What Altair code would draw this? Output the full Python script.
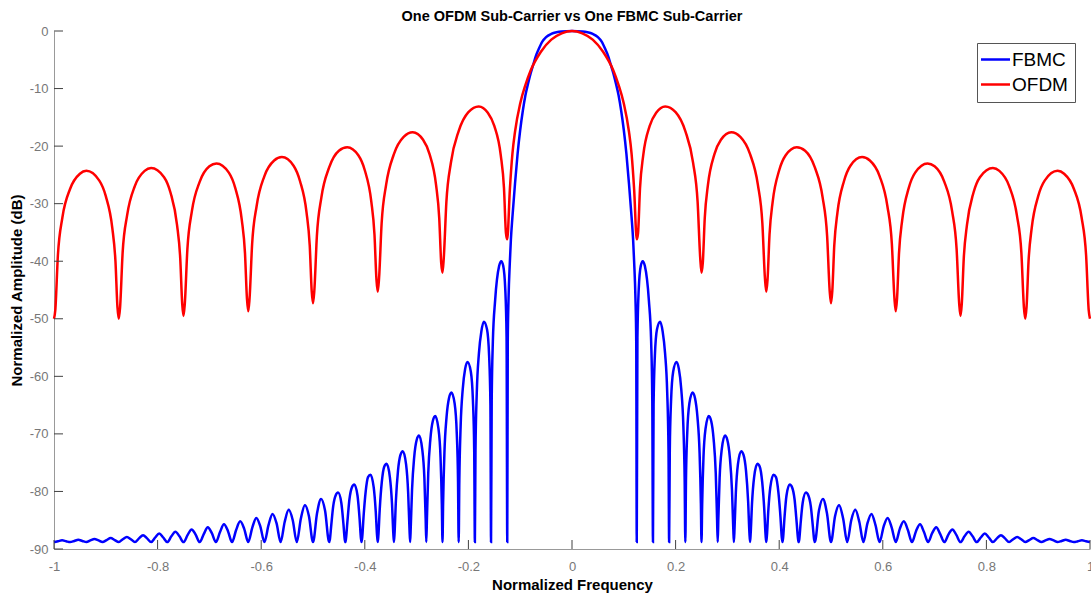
import altair as alt
import pandas as pd

# ---------------- data ----------------
series_names = ["FBMC", "OFDM"]
series_colors = ["#0000ff", "#ff0000"]

x_tick_values = [-1, -0.8, -0.6, -0.4, -0.2, 0, 0.2, 0.4, 0.6, 0.8, 1]
y_tick_values = [0, -10, -20, -30, -40, -50, -60, -70, -80, -90]

# OFDM sub-carrier (normalized frequency, dB)
ofdm_freq = [
    -1.0, -0.9975, -0.9925, -0.9838, -0.9688, -0.95, -0.9375, -0.9125, -0.9, -0.8875, -0.8813, -0.8775,
    -0.875, -0.8725, -0.8675, -0.8588, -0.8438, -0.825, -0.8125, -0.7875, -0.775, -0.7625, -0.7563, -0.7525,
    -0.75, -0.7475, -0.7425, -0.7338, -0.7188, -0.7, -0.6863, -0.6625, -0.65, -0.6375, -0.6313, -0.6275,
    -0.625, -0.6225, -0.6175, -0.6088, -0.5938, -0.575, -0.56, -0.5375, -0.525, -0.5125, -0.5063, -0.5025,
    -0.5, -0.4975, -0.4925, -0.4838, -0.4688, -0.45, -0.4338, -0.4125, -0.4, -0.3875, -0.3813, -0.3775,
    -0.375, -0.3725, -0.3675, -0.3588, -0.3438, -0.325, -0.3075, -0.2875, -0.275, -0.2625, -0.2563, -0.2525,
    -0.25, -0.2475, -0.2425, -0.2338, -0.2188, -0.2, -0.18, -0.1625, -0.15, -0.1375, -0.1313, -0.1275,
    -0.125, -0.12, -0.115, -0.11, -0.1, -0.09, -0.08, -0.06, -0.04, -0.02,
    0.0, 0.02, 0.04, 0.06, 0.08, 0.09, 0.1, 0.11, 0.115, 0.12, 0.125,
    0.1275, 0.1313, 0.1375, 0.15, 0.1625, 0.18, 0.2, 0.2188, 0.2338, 0.2425, 0.2475, 0.25,
    0.2525, 0.2563, 0.2625, 0.275, 0.2875, 0.3075, 0.325, 0.3438, 0.3588, 0.3675, 0.3725, 0.375,
    0.3775, 0.3813, 0.3875, 0.4, 0.4125, 0.4338, 0.45, 0.4688, 0.4838, 0.4925, 0.4975, 0.5,
    0.5025, 0.5063, 0.5125, 0.525, 0.5375, 0.56, 0.575, 0.5938, 0.6088, 0.6175, 0.6225, 0.625,
    0.6275, 0.6313, 0.6375, 0.65, 0.6625, 0.6863, 0.7, 0.7188, 0.7338, 0.7425, 0.7475, 0.75,
    0.7525, 0.7563, 0.7625, 0.775, 0.7875, 0.8125, 0.825, 0.8438, 0.8588, 0.8675, 0.8725, 0.875,
    0.8775, 0.8813, 0.8875, 0.9, 0.9125, 0.9375, 0.95, 0.9688, 0.9838, 0.9925, 0.9975, 1.0,
]
ofdm_db = [
    -50.0, -48.5, -39.0, -32.4, -27.4, -24.8, -24.3, -26.0, -28.7, -34.2, -40.1, -48.0,
    -50.0, -48.1, -38.5, -32.0, -26.9, -24.3, -23.8, -25.4, -28.1, -33.7, -39.5, -47.4,
    -49.5, -47.4, -37.9, -31.3, -26.2, -23.5, -23.0, -24.6, -27.3, -32.8, -38.6, -46.5,
    -48.7, -46.5, -37.0, -30.4, -25.2, -22.5, -21.9, -23.4, -26.1, -31.5, -37.3, -45.2,
    -47.3, -45.2, -35.6, -28.9, -23.7, -20.8, -20.2, -21.6, -24.2, -29.6, -35.4, -43.2,
    -45.3, -43.0, -33.4, -26.7, -21.4, -18.4, -17.6, -18.9, -21.4, -26.7, -32.5, -40.3,
    -42.0, -39.4, -29.7, -22.9, -17.4, -14.1, -13.1, -14.2, -16.5, -21.6, -27.3, -35.1,
    -36.2, -27.6, -21.3, -17.5, -12.6, -9.4, -6.9, -3.6, -1.5, -0.4,
    0.0, -0.4, -1.5, -3.6, -6.9, -9.4, -12.6, -17.5, -21.3, -27.6, -36.2,
    -35.1, -27.3, -21.6, -16.5, -14.2, -13.1, -14.1, -17.4, -22.9, -29.7, -39.4, -42.0,
    -40.3, -32.5, -26.7, -21.4, -18.9, -17.6, -18.4, -21.4, -26.7, -33.4, -43.0, -45.3,
    -43.2, -35.4, -29.6, -24.2, -21.6, -20.2, -20.8, -23.7, -28.9, -35.6, -45.2, -47.3,
    -45.2, -37.3, -31.5, -26.1, -23.4, -21.9, -22.5, -25.2, -30.4, -37.0, -46.5, -48.7,
    -46.5, -38.6, -32.8, -27.3, -24.6, -23.0, -23.5, -26.2, -31.3, -37.9, -47.4, -49.5,
    -47.4, -39.5, -33.7, -28.1, -25.4, -23.8, -24.3, -26.9, -32.0, -38.5, -48.1, -50.0,
    -48.0, -40.1, -34.2, -28.7, -26.0, -24.3, -24.8, -27.4, -32.4, -39.0, -48.5, -50.0,
]

# FBMC sub-carrier (normalized frequency, dB)
fbmc_freq = [
    -1.0, -0.9922, -0.9844, -0.9766,
    -0.9688, -0.9609, -0.9531, -0.9453,
    -0.9375, -0.9297, -0.9219, -0.9141,
    -0.9063, -0.8984, -0.8906, -0.8828,
    -0.875, -0.8672, -0.8594, -0.8516,
    -0.8438, -0.8359, -0.8281, -0.8203,
    -0.8125, -0.8047, -0.7969, -0.7891,
    -0.7813, -0.7734, -0.7656, -0.7578,
    -0.75, -0.7422, -0.7344, -0.7266,
    -0.7188, -0.7109, -0.7031, -0.6953,
    -0.6875, -0.6797, -0.6719, -0.6641,
    -0.6563, -0.6484, -0.6406, -0.6328,
    -0.625, -0.6172, -0.6094, -0.6016,
    -0.5938, -0.5859, -0.5781, -0.5703,
    -0.5625, -0.5547, -0.5469, -0.5391,
    -0.5313, -0.5234, -0.5156, -0.5078,
    -0.5, -0.4922, -0.4844, -0.4766,
    -0.4688,
    -0.4675, -0.465, -0.4609, -0.4563, -0.4516, -0.4453, -0.4413, -0.4388, -0.4375,
    -0.4363, -0.4338, -0.4297, -0.425, -0.4203, -0.4141, -0.41, -0.4075, -0.4063,
    -0.405, -0.4025, -0.3984, -0.3938, -0.3891, -0.3828, -0.3788, -0.3763, -0.375,
    -0.3738, -0.3713, -0.3672, -0.3625, -0.3578, -0.3516, -0.3475, -0.345, -0.3438,
    -0.3425, -0.34, -0.3359, -0.3313, -0.3266, -0.3203, -0.3163, -0.3138, -0.3125,
    -0.3113, -0.3088, -0.3047, -0.3, -0.2953, -0.2891, -0.285, -0.2825, -0.2813,
    -0.28, -0.2775, -0.2734, -0.2688, -0.2641, -0.2578, -0.2538, -0.2513, -0.25,
    -0.2488, -0.2463, -0.2422, -0.2375, -0.2328, -0.2266, -0.2225, -0.22, -0.2188,
    -0.2175, -0.215, -0.2109, -0.2063, -0.2016, -0.1953, -0.1913, -0.1888, -0.1875,
    -0.1863, -0.1838, -0.1797, -0.175, -0.1703, -0.1641, -0.16, -0.1575, -0.1563,
    -0.155, -0.1528, -0.1484, -0.1406, -0.1365, -0.1328, -0.1288, -0.1263, -0.125,
    -0.124, -0.1225, -0.12, -0.118, -0.115, -0.11, -0.105, -0.1, -0.095, -0.09, -0.085,
    -0.08, -0.075, -0.07, -0.065, -0.057, -0.05, -0.04, -0.03, -0.02, 0.0,
    0.02, 0.03, 0.04, 0.05, 0.057, 0.065, 0.07, 0.075, 0.08, 0.085,
    0.09, 0.095, 0.1, 0.105, 0.11, 0.115, 0.118, 0.12, 0.1225, 0.124, 0.125,
    0.1263, 0.1288, 0.1328, 0.1365, 0.1406, 0.1484, 0.1528, 0.155, 0.1563,
    0.1575, 0.16, 0.1641, 0.1703, 0.175, 0.1797, 0.1838, 0.1863, 0.1875,
    0.1888, 0.1913, 0.1953, 0.2016, 0.2063, 0.2109, 0.215, 0.2175, 0.2188,
    0.22, 0.2225, 0.2266, 0.2328, 0.2375, 0.2422, 0.2463, 0.2488, 0.25,
    0.2513, 0.2538, 0.2578, 0.2641, 0.2688, 0.2734, 0.2775, 0.28, 0.2813,
    0.2825, 0.285, 0.2891, 0.2953, 0.3, 0.3047, 0.3088, 0.3113, 0.3125,
    0.3138, 0.3163, 0.3203, 0.3266, 0.3313, 0.3359, 0.34, 0.3425, 0.3438,
    0.345, 0.3475, 0.3516, 0.3578, 0.3625, 0.3672, 0.3713, 0.3738, 0.375,
    0.3763, 0.3788, 0.3828, 0.3891, 0.3938, 0.3984, 0.4025, 0.405, 0.4063,
    0.4075, 0.41, 0.4141, 0.4203, 0.425, 0.4297, 0.4338, 0.4363, 0.4375,
    0.4388, 0.4413, 0.4453, 0.4516, 0.4563, 0.4609, 0.465, 0.4675, 0.4688,
    0.4766, 0.4844, 0.4922, 0.5,
    0.5078, 0.5156, 0.5234, 0.5313,
    0.5391, 0.5469, 0.5547, 0.5625,
    0.5703, 0.5781, 0.5859, 0.5938,
    0.6016, 0.6094, 0.6172, 0.625,
    0.6328, 0.6406, 0.6484, 0.6563,
    0.6641, 0.6719, 0.6797, 0.6875,
    0.6953, 0.7031, 0.7109, 0.7188,
    0.7266, 0.7344, 0.7422, 0.75,
    0.7578, 0.7656, 0.7734, 0.7813,
    0.7891, 0.7969, 0.8047, 0.8125,
    0.8203, 0.8281, 0.8359, 0.8438,
    0.8516, 0.8594, 0.8672, 0.875,
    0.8828, 0.8906, 0.8984, 0.9063,
    0.9141, 0.9219, 0.9297, 0.9375,
    0.9453, 0.9531, 0.9609, 0.9688,
    0.9766, 0.9844, 0.9922, 1.0,
]
fbmc_db = [
    -88.8, -88.65, -88.5, -88.65,
    -88.8, -88.6, -88.4, -88.6,
    -88.8, -88.5, -88.25, -88.5,
    -88.8, -88.45, -88.1, -88.45,
    -88.8, -88.3, -87.9, -88.3,
    -88.8, -88.15, -87.6, -88.15,
    -88.8, -88.0, -87.3, -88.0,
    -88.8, -87.8, -87.0, -87.8,
    -88.8, -87.6, -86.6, -87.5,
    -88.8, -87.4, -86.2, -87.25,
    -88.8, -87.1, -85.7, -86.9,
    -88.8, -86.7, -85.2, -86.5,
    -88.8, -86.3, -84.6, -86.1,
    -88.8, -85.85, -83.9, -85.55,
    -88.8, -85.3, -83.2, -85.0,
    -88.8, -84.7, -82.4, -84.3,
    -88.8, -83.8, -81.3, -83.4,
    -88.8,
    -88.4, -86.1, -82.5, -80.7, -80.2, -82.0, -85.6, -88.3, -88.8,
    -88.2, -85.5, -81.4, -79.3, -78.8, -80.7, -84.8, -88.1, -88.8,
    -88.0, -84.5, -80.1, -77.5, -77.1, -79.3, -83.6, -87.7, -88.8,
    -87.7, -83.3, -78.4, -75.7, -75.2, -77.5, -82.1, -87.2, -88.8,
    -87.2, -81.7, -76.4, -73.7, -73.0, -75.3, -80.2, -86.4, -88.8,
    -86.3, -79.7, -74.1, -71.1, -70.3, -72.7, -77.6, -84.8, -88.8,
    -84.6, -76.8, -70.9, -67.8, -66.9, -69.1, -74.1, -82.2, -88.8,
    -82.0, -73.3, -67.1, -63.8, -62.8, -64.7, -69.8, -78.4, -88.8,
    -78.1, -68.7, -62.2, -58.7, -57.5, -59.2, -64.1, -72.8, -88.8,
    -72.8, -62.8, -56.0, -52.2, -50.5, -51.8, -56.4, -65.0, -88.8,
    -64.3, -54.0, -46.8, -40.8, -40.0, -40.8, -44.9, -53.3, -88.8,
    -54.0, -46.5, -40.2, -36.3, -32.3, -26.5, -21.3, -17.2, -13.9, -11.2, -9.2,
    -7.4, -5.9, -4.4, -3.3, -1.8, -1.05, -0.5, -0.22, -0.08, 0.0,
    -0.08, -0.22, -0.5, -1.05, -1.8, -3.3, -4.4, -5.9, -7.4, -9.2,
    -11.2, -13.9, -17.2, -21.3, -26.5, -32.3, -36.3, -40.2, -46.5, -54.0, -88.8,
    -53.3, -44.9, -40.8, -40.0, -40.8, -46.8, -54.0, -64.3, -88.8,
    -65.0, -56.4, -51.8, -50.5, -52.2, -56.0, -62.8, -72.8, -88.8,
    -72.8, -64.1, -59.2, -57.5, -58.7, -62.2, -68.7, -78.1, -88.8,
    -78.4, -69.8, -64.7, -62.8, -63.8, -67.1, -73.3, -82.0, -88.8,
    -82.2, -74.1, -69.1, -66.9, -67.8, -70.9, -76.8, -84.6, -88.8,
    -84.8, -77.6, -72.7, -70.3, -71.1, -74.1, -79.7, -86.3, -88.8,
    -86.4, -80.2, -75.3, -73.0, -73.7, -76.4, -81.7, -87.2, -88.8,
    -87.2, -82.1, -77.5, -75.2, -75.7, -78.4, -83.3, -87.7, -88.8,
    -87.7, -83.6, -79.3, -77.1, -77.5, -80.1, -84.5, -88.0, -88.8,
    -88.1, -84.8, -80.7, -78.8, -79.3, -81.4, -85.5, -88.2, -88.8,
    -88.3, -85.6, -82.0, -80.2, -80.7, -82.5, -86.1, -88.4, -88.8,
    -83.4, -81.3, -83.8, -88.8,
    -84.3, -82.4, -84.7, -88.8,
    -85.0, -83.2, -85.3, -88.8,
    -85.55, -83.9, -85.85, -88.8,
    -86.1, -84.6, -86.3, -88.8,
    -86.5, -85.2, -86.7, -88.8,
    -86.9, -85.7, -87.1, -88.8,
    -87.25, -86.2, -87.4, -88.8,
    -87.5, -86.6, -87.6, -88.8,
    -87.8, -87.0, -87.8, -88.8,
    -88.0, -87.3, -88.0, -88.8,
    -88.15, -87.6, -88.15, -88.8,
    -88.3, -87.9, -88.3, -88.8,
    -88.45, -88.1, -88.45, -88.8,
    -88.5, -88.25, -88.5, -88.8,
    -88.6, -88.4, -88.6, -88.8,
    -88.65, -88.5, -88.65, -88.8,
]

assert len(ofdm_freq) == len(ofdm_db), (len(ofdm_freq), len(ofdm_db))
assert len(fbmc_freq) == len(fbmc_db), (len(fbmc_freq), len(fbmc_db))

df = pd.concat(
    [
        pd.DataFrame({"freq": fbmc_freq, "db": fbmc_db, "series": series_names[0]}),
        pd.DataFrame({"freq": ofdm_freq, "db": ofdm_db, "series": series_names[1]}),
    ],
    ignore_index=True,
)

# ---------------- chart ----------------
W, H = 1036, 518
FONT = "Liberation Sans"
xscale = alt.Scale(domain=[-1, 1], nice=False, zero=False)
yscale = alt.Scale(domain=[-90, 0], nice=False, zero=False)
label_expr = "datum.value < 0 ? '-' + format(-datum.value, '~g') : format(datum.value, '~g')"

x_axis = alt.Axis(
    values=x_tick_values,
    labelExpr=label_expr,
    title="Normalized Frequency",
    labelPadding=11,
    titlePadding=4,
    labelFlush=False,
    labelOverlap=False,
)
y_axis = alt.Axis(
    values=y_tick_values,
    labelExpr=label_expr,
    title="Normalized Amplitude (dB)",
    labelPadding=6,
    titlePadding=5,
    labelOverlap=False,
)
x_enc = alt.X("freq:Q", scale=xscale, axis=x_axis)
y_enc = alt.Y("db:Q", scale=yscale, axis=y_axis)

color = alt.Color(
    "series:N",
    scale=alt.Scale(domain=series_names, range=series_colors),
    legend=alt.Legend(
        title=None,
        orient="none",
        legendX=923,
        legendY=12,
        direction="vertical",
        fillColor="#ffffff",
        strokeColor="#555555",
        padding=7,
        symbolType="M-2,0H2",
        symbolSize=210,
        symbolStrokeWidth=2.5,
        symbolOffset=2,
        labelOffset=7,
        labelFontSize=19,
        labelFont=FONT,
        labelColor="#000000",
        rowPadding=5,
        labelLimit=0,
    ),
)

base = alt.Chart(df).mark_line(strokeWidth=2.5, interpolate="monotone").encode(
    x=x_enc, y=y_enc, color=color
)
fbmc_line = base.transform_filter(alt.datum.series == series_names[0])
ofdm_line = base.transform_filter(alt.datum.series == series_names[1])

x_ticks = alt.Chart(pd.DataFrame({"freq": x_tick_values})).mark_rule(
    color="#404040", strokeWidth=1
).encode(x=x_enc, y=alt.value(H), y2=alt.value(H - 9))
y_ticks = alt.Chart(pd.DataFrame({"db": y_tick_values})).mark_rule(
    color="#404040", strokeWidth=1
).encode(y=y_enc, x=alt.value(0), x2=alt.value(9))

chart = (
    alt.layer(fbmc_line, ofdm_line, x_ticks, y_ticks)
    .properties(
        width=W,
        height=H,
        title=alt.Title("One OFDM Sub-Carrier vs One FBMC Sub-Carrier", dy=3),
        padding={"left": 54, "top": 31, "right": 1, "bottom": 45},
        autosize=alt.AutoSizeParams(type="none"),
        background="#ffffff",
    )
    .configure_view(stroke=None)
    .configure_axis(
        grid=False,
        ticks=False,
        domainColor="#999999",
        domainWidth=1,
        labelColor="#777777",
        labelFont=FONT,
        labelFontSize=13,
        titleFont=FONT,
        titleFontSize=15,
        titleFontWeight="bold",
        titleColor="#000000",
    )
    .configure_title(
        font=FONT,
        fontSize=14.5,
        fontWeight="bold",
        color="#000000",
        anchor="middle",
        frame="group",
        offset=0,
    )
)

chart.save("out.html", embed_options={"renderer": "svg", "actions": False})
